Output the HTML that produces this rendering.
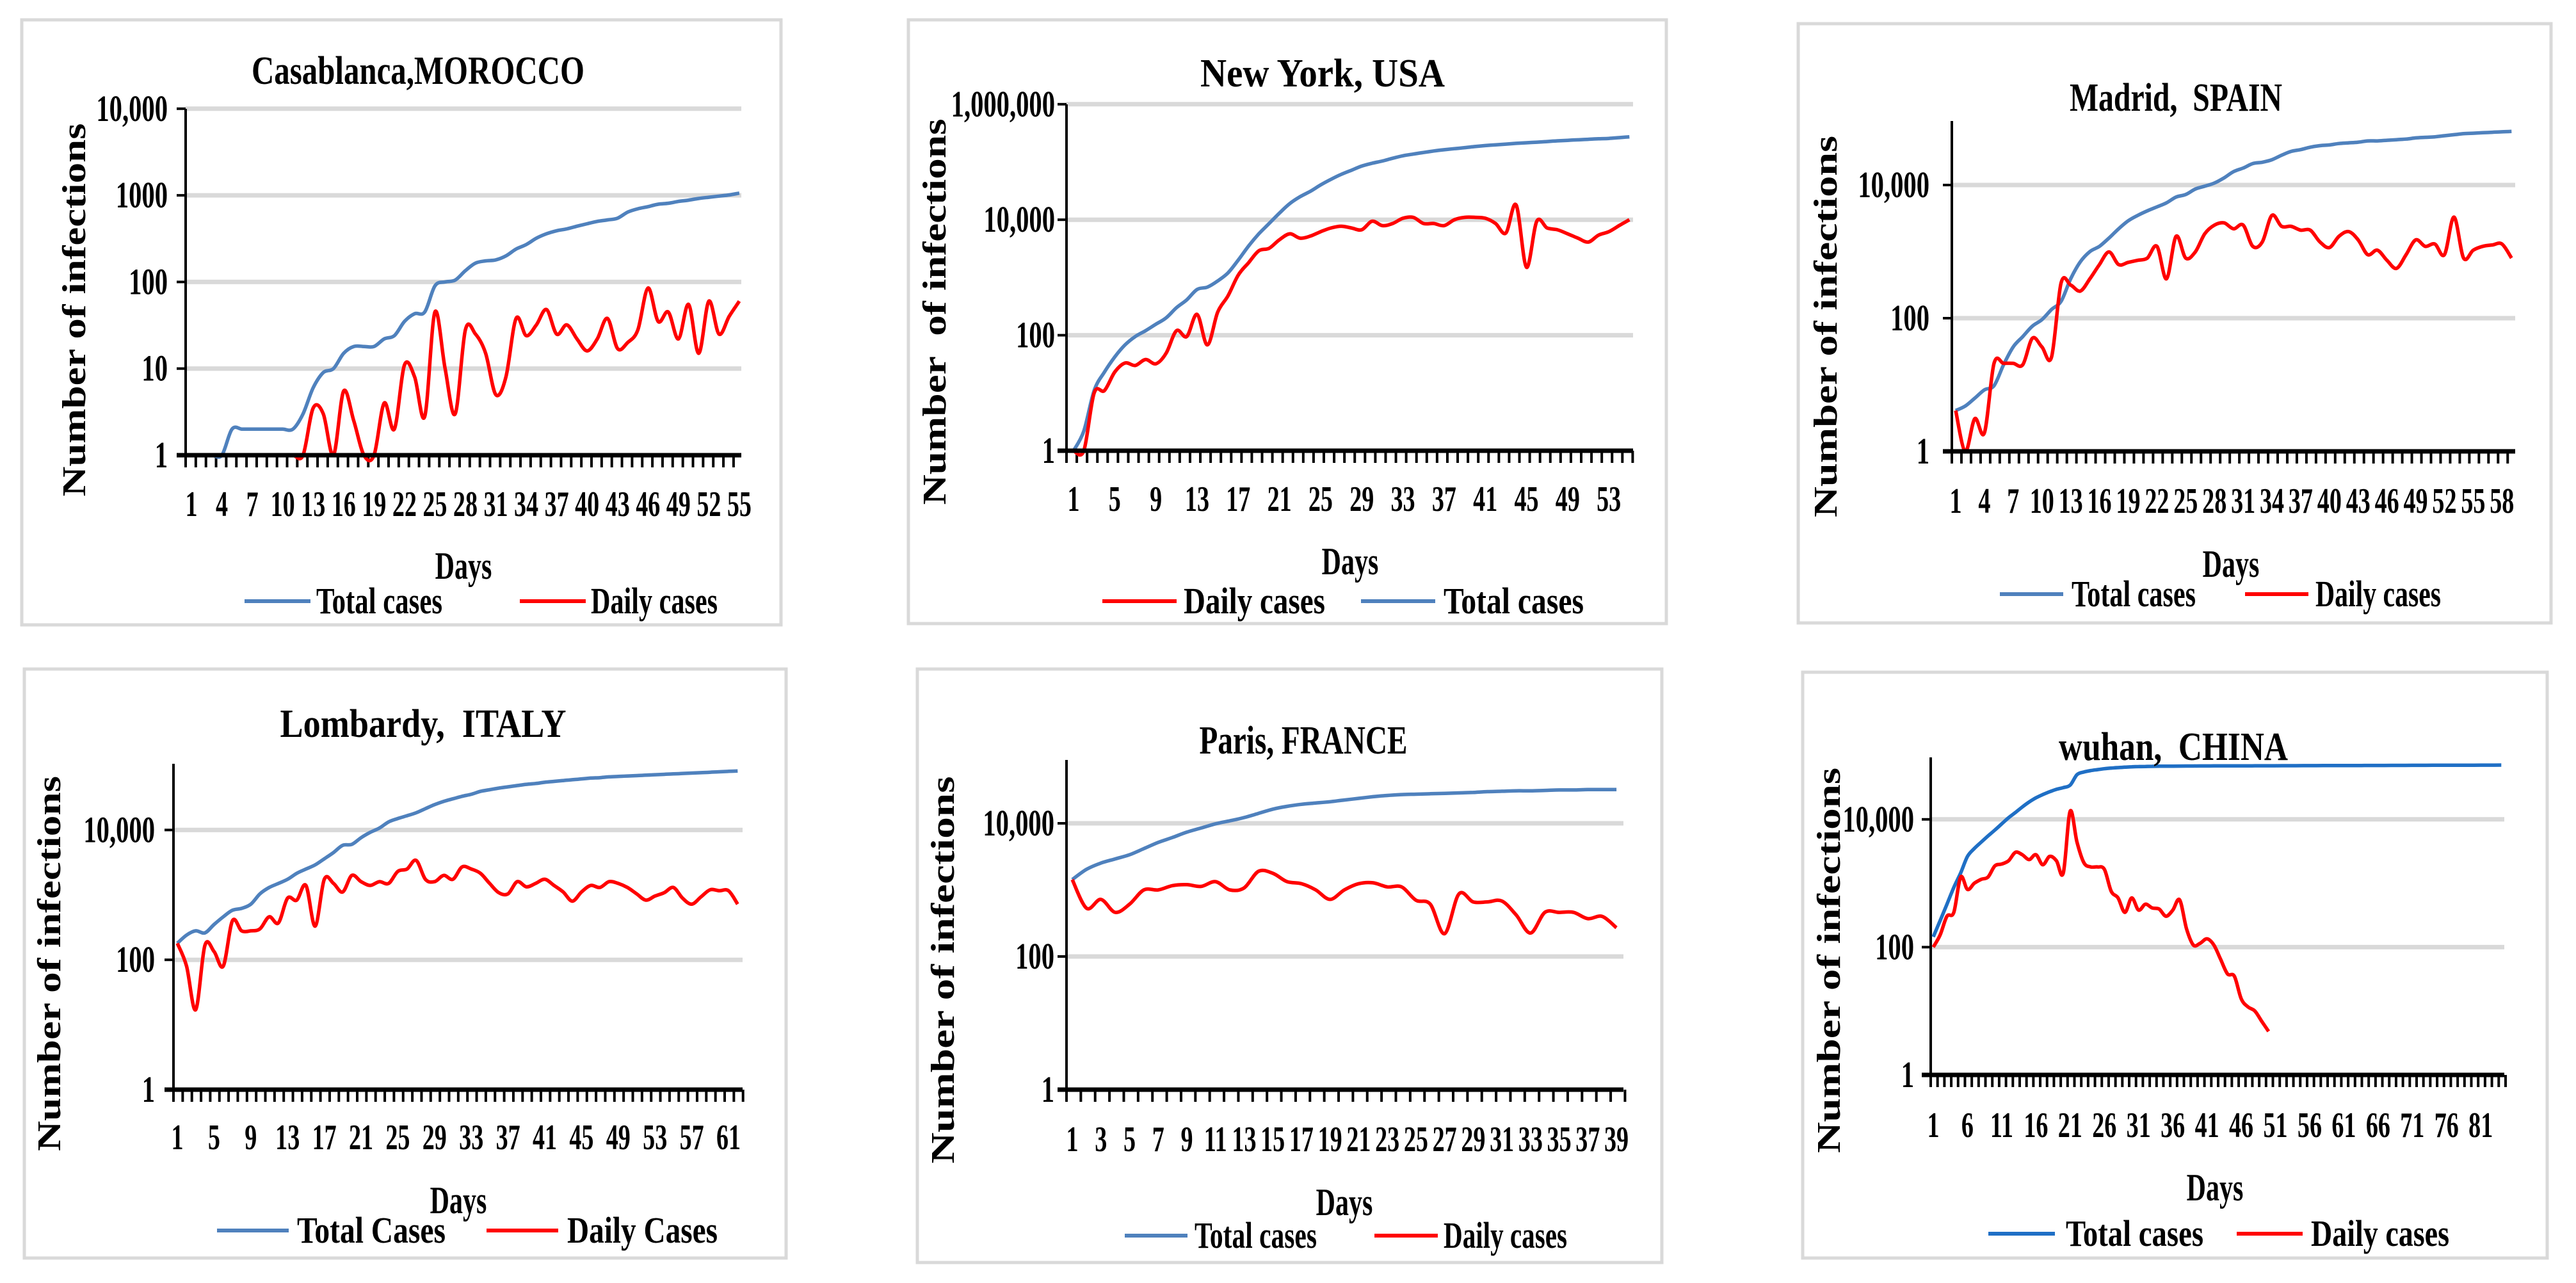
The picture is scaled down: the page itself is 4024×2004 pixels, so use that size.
<!DOCTYPE html>
<html><head><meta charset="utf-8"><style>
html,body{margin:0;padding:0;background:#fff;}
svg{display:block;}
text{font-family:"Liberation Serif",serif;font-weight:bold;fill:#000;white-space:pre;}
</style></head><body>
<svg id="fig" xmlns="http://www.w3.org/2000/svg" width="4024" height="2004" viewBox="0 0 4024 2004" xml:space="preserve"></svg>
<script>
// ---- Casablanca ----
const casaTotal=[1,1,1,1,2,2,2,2,2,2,2,3,6,9,10,15,18,18,18,22,24,35,43,45,90,100,105,135,165,175,180,200,240,270,320,360,390,410,440,470,500,520,545,640,700,740,790,810,850,880,920,950,980,1010,1060];
const casaDaily=[1,1,1,1,1,1,1,1,1,1,1,1,3.5,3,1,5.5,2.5,1,1,4,2,11,8,2.8,45,10,3,28,25,15,5,8,38,24,32,48,25,32,22,16,22,38,17,20,28,85,35,45,22,55,15,60,25,40,60];
const casaXLabels=['1','4','7','10','13','16','19','22','25','28','31','34','37','40','43','46','49','52','55'];
const casaYTicks=[1,10,100,1000,10000];
const casaYLabels=['1','10','100','1000','10,000'];
// ---- New York ----
const nyTotal=[1,2.2,11,23,42,68,95,120,155,200,300,410,620,680,870,1200,2000,3500,5700,8600,13000,19000,25000,31000,40000,50000,61000,72000,85000,95000,104000,116000,128000,137000,146000,155000,163000,170000,177000,185000,192000,198000,204000,210000,215000,220000,226000,232000,237000,242000,247000,252000,256000,264000,273000];
const nyDaily=[1,1,10,11,23,33,30,38,32,49,120,95,230,68,250,480,1100,1800,2900,3200,4500,5700,4800,5200,6200,7200,7700,7200,6700,9400,7900,8600,10600,11000,8600,8600,7900,10000,11000,11000,10600,8600,5900,18000,1500,9400,7200,6700,5700,4800,4100,5400,6200,7900,10000];
const nyXLabels=['1','5','9','13','17','21','25','29','33','37','41','45','49','53'];
const nyYTicks=[1,100,10000,1000000];
const nyYLabels=['1','100','10,000','1,000,000'];
// ---- Madrid ----
const madTotal=[4.1,4.8,6.3,8.4,9.7,20,37,53,76,95,135,180,390,700,1000,1200,1600,2200,2900,3500,4100,4700,5400,6600,7200,8700,9600,10700,12800,15900,18000,21000,22000,24000,28000,32000,34000,37000,39000,40000,42000,43000,44000,46000,46000,47000,48000,49000,51000,52000,53000,55000,57000,59000,60000,61000,62000,63000,64000];
const madDaily=[4.1,1,3.1,1.9,21,21,21,20,50,37,26,340,315,255,390,640,990,640,690,740,800,1200,390,1700,800,990,1860,2500,2700,2200,2500,1200,1400,3500,2400,2400,2100,2100,1400,1150,1700,2000,1500,900,1050,740,560,900,1500,1200,1300,900,3300,800,1050,1200,1260,1300,800];
const madXLabels=['1','4','7','10','13','16','19','22','25','28','31','34','37','40','43','46','49','52','55','58'];
const madYTicks=[1,100,10000];
const madYLabels=['1','100','10,000'];
// ---- Lombardy ----
const lomTotal=[180,240,280,260,350,460,580,620,720,1040,1300,1500,1740,2150,2500,2900,3600,4500,5800,6000,7600,9200,10700,13300,15000,16600,18400,21300,24600,27600,30200,33000,35500,39300,41700,44200,46200,48300,50500,52000,54300,56000,57700,59400,61200,63000,64000,65800,66800,67800,68800,69800,70900,72000,73100,74200,75300,76400,77600,78800,80000,81200];
const lomDaily=[180,80,17,167,134,80,400,280,280,300,460,370,890,830,1400,330,1740,1500,1110,2000,1600,1400,1600,1500,2300,2500,3400,1740,1600,2000,1740,2700,2500,2150,1500,1080,1040,1600,1330,1500,1740,1400,1110,800,1110,1400,1300,1600,1500,1300,1040,830,960,1080,1300,890,720,930,1200,1160,1160,720];
const lomXLabels=['1','5','9','13','17','21','25','29','33','37','41','45','49','53','57','61'];
const lomYTicks=[1,100,10000];
const lomYLabels=['1','100','10,000'];
// ---- Paris ----
const parTotal=[1430,2040,2530,2920,3370,4170,5170,6130,7370,8500,9820,10900,12200,14100,16300,18000,19300,20200,21100,22400,23700,25100,26200,27000,27400,27800,28200,28600,29100,29900,30300,30800,30800,31200,31700,31700,32100,32100,32100];
const parDaily=[1430,530,720,460,610,1000,1000,1160,1200,1130,1330,1000,1070,1900,1780,1330,1240,1000,720,1000,1240,1280,1110,1110,700,610,220,870,660,660,680,420,225,460,460,460,370,400,270];
const parXLabels=['1','3','5','7','9','11','13','15','17','19','21','23','25','27','29','31','33','35','37','39'];
const parYTicks=[1,100,10000];
const parYLabels=['1','100','10,000'];
// ---- Wuhan ----
const wuhTotal=[145,260,470,860,1450,2630,3500,4400,5500,6800,8500,10600,12800,15600,18700,21700,24400,27000,29500,31400,34300,50000,55000,58000,60000,62000,63500,64500,65500,66500,67000,67300,67600,67800,68000,68100,68200,68300,68400,68500,68550,68600,68650,68700,68750,68800,68850,68900,68950,69000,69050,69100,69150,69200,69250,69300,69350,69400,69450,69500,69550,69600,69650,69700,69750,69800,69850,69900,69950,70000,70050,70100,70150,70200,70250,70300,70350,70400,70450,70500,70550,70600,70650,70700];
const wuhDaily=[100,155,305,350,1250,800,1000,1150,1250,1870,2000,2250,3050,2800,2350,2800,1950,2630,2250,1450,13400,4400,2100,1800,1800,1650,750,590,350,590,380,470,410,395,305,380,550,195,108,115,135,108,64,38,35,15.5,11.6,10,6.9,4.8];
const wuhXLabels=['1','6','11','16','21','26','31','36','41','46','51','56','61','66','71','76','81'];
const wuhYTicks=[1,100,10000];
const wuhYLabels=['1','100','10,000'];

const NS='http://www.w3.org/2000/svg';
const svg=document.getElementById('fig');
function mk(tag,attrs,parent){const e=document.createElementNS(NS,tag);for(const k in attrs)e.setAttribute(k,attrs[k]);(parent||svg).appendChild(e);return e;}
function txt(parent,s,x,y,size,anchor,sx){const t=mk('text',{x:0,y:0,'font-size':size,'text-anchor':anchor,transform:`translate(${x},${y}) scale(${sx},1)`},parent);t.textContent=s;return t;}
function smooth(pts){let d=`M${pts[0][0]},${pts[0][1]}`;for(let i=0;i<pts.length-1;i++){const p0=pts[Math.max(0,i-1)],p1=pts[i],p2=pts[i+1],p3=pts[Math.min(pts.length-1,i+2)];const c1x=p1[0]+(p2[0]-p0[0])/6,c1y=p1[1]+(p2[1]-p0[1])/6,c2x=p2[0]-(p3[0]-p1[0])/6,c2y=p2[1]-(p3[1]-p1[1])/6;d+=` C${c1x.toFixed(1)},${c1y.toFixed(1)} ${c2x.toFixed(1)},${c2y.toFixed(1)} ${p2[0].toFixed(1)},${p2[1].toFixed(1)}`;}return d;}

function chart(c){
  const g=mk('g',{});
  
  
  const b=mk('rect',{x:c.box[0],y:c.box[1],width:c.box[2]-c.box[0],height:c.box[3]-c.box[1],fill:'#fff',stroke:'#d9d9d9','stroke-width':5},g);
  
  const yS=v=>c.y1-Math.log10(Math.max(1,v))*c.decPx;
  const xS=d=>c.day1+(d-1)*c.step;
  c.yTicks.forEach((v,i)=>{
    const y=yS(v);
    if(v>1){const gl=mk('line',{x1:c.axisX,x2:c.gridTo,y1:y,y2:y,stroke:'#d9d9d9','stroke-width':7},g);
      }
    const tk=mk('line',{x1:c.axisX-14,x2:c.axisX,y1:y,y2:y,stroke:'#000','stroke-width':4},g);
    
    const t=txt(g,c.yLabels[i],c.labelRight,y+19,58,'end',0.7);
    
  });
  const drawS=(arr,col,nm)=>{const pts=arr.map((v,i)=>[xS(i+1),yS(v)]);
    const p=mk('path',{d:smooth(pts),fill:'none',stroke:col,'stroke-width':5.5,'stroke-linejoin':'round'},g);
    };
  const ya=mk('line',{x1:c.axisX,x2:c.axisX,y1:c.top,y2:c.y1+3,stroke:'#000','stroke-width':4},g);
  
  for(let i=0;i<=c.nTicks;i++){const x=c.axisX+i*c.step;if(x>c.gridTo+3)break;
    const tk=mk('line',{x1:x,x2:x,y1:c.y1,y2:c.y1+19,stroke:'#000','stroke-width':4},g);
    }
  drawS(c.total,c.blue,'total-cases-line');
  drawS(c.daily,'#ff0000','daily-cases-line');
  const xa=mk('line',{x1:c.axisX-14,x2:c.gridTo,y1:c.y1,y2:c.y1,stroke:'#000','stroke-width':7},g);
  
  c.xLabels.forEach(s=>{const t=txt(g,s,xS(parseInt(s,10)),c.tickBase,56,'middle',0.68);
    });
  const ti=mk('text',{x:c.title[1]-c.title[3]/2,y:c.title[2],'font-size':62,textLength:c.title[3],lengthAdjust:'spacingAndGlyphs'},g);
  ti.textContent=c.title[0];
  const yt=mk('text',{x:0,y:0,'font-size':52,textLength:c.ytitle[2],lengthAdjust:'spacingAndGlyphs','text-anchor':'middle',transform:`translate(${c.ytitle[0]+17},${c.ytitle[1]}) rotate(-90)`},g);
  yt.textContent=c.ytitleText||'Number of infections';
  const dt=txt(g,'Days',c.days[0],c.days[1],60,'middle',0.7);
  
  c.legend.forEach(L=>{
    const lg=mk('g',{},g);
    const ln=mk('line',{x1:L.x1,x2:L.x2,y1:c.legY,y2:c.legY,stroke:L.key==='total'?c.blue:'#ff0000','stroke-width':6},lg);
    
    const t=mk('text',{x:L.tx,y:c.legY+19,'font-size':58,textLength:L.tw,lengthAdjust:'spacingAndGlyphs'},lg);
    t.textContent=L.label;
  });
}
const BL='#4f81bd';
chart({name:'casablanca',box:[34,31,1220,976],axisX:290,top:170,y1:711,decPx:135.3,day1:299,step:15.85,nTicks:56,gridTo:1158,
  total:casaTotal,daily:casaDaily,xLabels:casaXLabels,yTicks:casaYTicks,yLabels:casaYLabels,labelRight:262,blue:BL,
  title:['Casablanca,MOROCCO',653,131,520],ytitle:[116,484,583],tickBase:806,days:[724,904],legY:939,
  legend:[{key:'total',x1:382,x2:485,tx:494,tw:197,label:'Total cases'},{key:'daily',x1:812,x2:915,tx:923,tw:198,label:'Daily cases'}]});
chart({name:'new-york',box:[1419,31,2603,974],axisX:1666,top:163,y1:704,decPx:90.2,day1:1677,step:16.08,nTicks:56,gridTo:2551,
  total:nyTotal,daily:nyDaily,xLabels:nyXLabels,yTicks:nyYTicks,yLabels:nyYLabels,labelRight:1648,blue:BL,
  title:['New York, USA',2066,135,382],ytitle:[1460,487,603],ytitleText:'Number  of infections',tickBase:798,days:[2109,897],legY:939,
  legend:[{key:'daily',x1:1722,x2:1838,tx:1849,tw:221,label:'Daily cases'},{key:'total',x1:2126,x2:2242,tx:2255,tw:219,label:'Total cases'}]});
chart({name:'madrid',box:[2809,37,3985,973],axisX:3049,top:189,y1:705,decPx:104,day1:3055,step:14.97,nTicks:59,gridTo:3929,
  total:madTotal,daily:madDaily,xLabels:madXLabels,yTicks:madYTicks,yLabels:madYLabels,labelRight:3014,blue:BL,
  title:['Madrid,  SPAIN',3399,173,332],ytitle:[2852,510,596],tickBase:801,days:[3485,901],legY:928,
  legend:[{key:'total',x1:3124,x2:3223,tx:3236,tw:194,label:'Total cases'},{key:'daily',x1:3507,x2:3606,tx:3617,tw:196,label:'Daily cases'}]});
chart({name:'lombardy',box:[38,1045,1228,1965],axisX:271,top:1193,y1:1702,decPx:101.4,day1:277,step:14.35,nTicks:62,gridTo:1160,
  total:lomTotal,daily:lomDaily,xLabels:lomXLabels,yTicks:lomYTicks,yLabels:lomYLabels,labelRight:242,blue:BL,
  title:['Lombardy,  ITALY',661,1151,447],ytitle:[77,1505,586],tickBase:1795,days:[716,1895],legY:1922,
  legend:[{key:'total',x1:339,x2:451,tx:464,tw:232,label:'Total Cases'},{key:'daily',x1:760,x2:872,tx:886,tw:235,label:'Daily Cases'}]});
chart({name:'paris',box:[1433,1045,2596,1972],axisX:1666,top:1187,y1:1702,decPx:104,day1:1675,step:22.37,nTicks:39,gridTo:2536,
  total:parTotal,daily:parDaily,xLabels:parXLabels,yTicks:parYTicks,yLabels:parYLabels,labelRight:1647,blue:BL,
  title:['Paris, FRANCE',2036,1177,325],ytitle:[1473,1515,605],tickBase:1798,days:[2100,1898],legY:1930,
  legend:[{key:'total',x1:1757,x2:1855,tx:1866,tw:191,label:'Total cases'},{key:'daily',x1:2147,x2:2246,tx:2255,tw:193,label:'Daily cases'}]});
chart({name:'wuhan',box:[2816,1050,3979,1965],axisX:3016,top:1183,y1:1679,decPx:99.8,day1:3020,step:10.69,nTicks:84,gridTo:3912,
  total:wuhTotal,daily:wuhDaily,xLabels:wuhXLabels,yTicks:wuhYTicks,yLabels:wuhYLabels,labelRight:2990,blue:'#1f6fc5',
  title:['wuhan,  CHINA',3395,1187,358],ytitle:[2857,1500,602],tickBase:1776,days:[3460,1875],legY:1927,
  legend:[{key:'total',x1:3106,x2:3210,tx:3227,tw:215,label:'Total cases'},{key:'daily',x1:3494,x2:3597,tx:3610,tw:216,label:'Daily cases'}]});
</script>
</body></html>
